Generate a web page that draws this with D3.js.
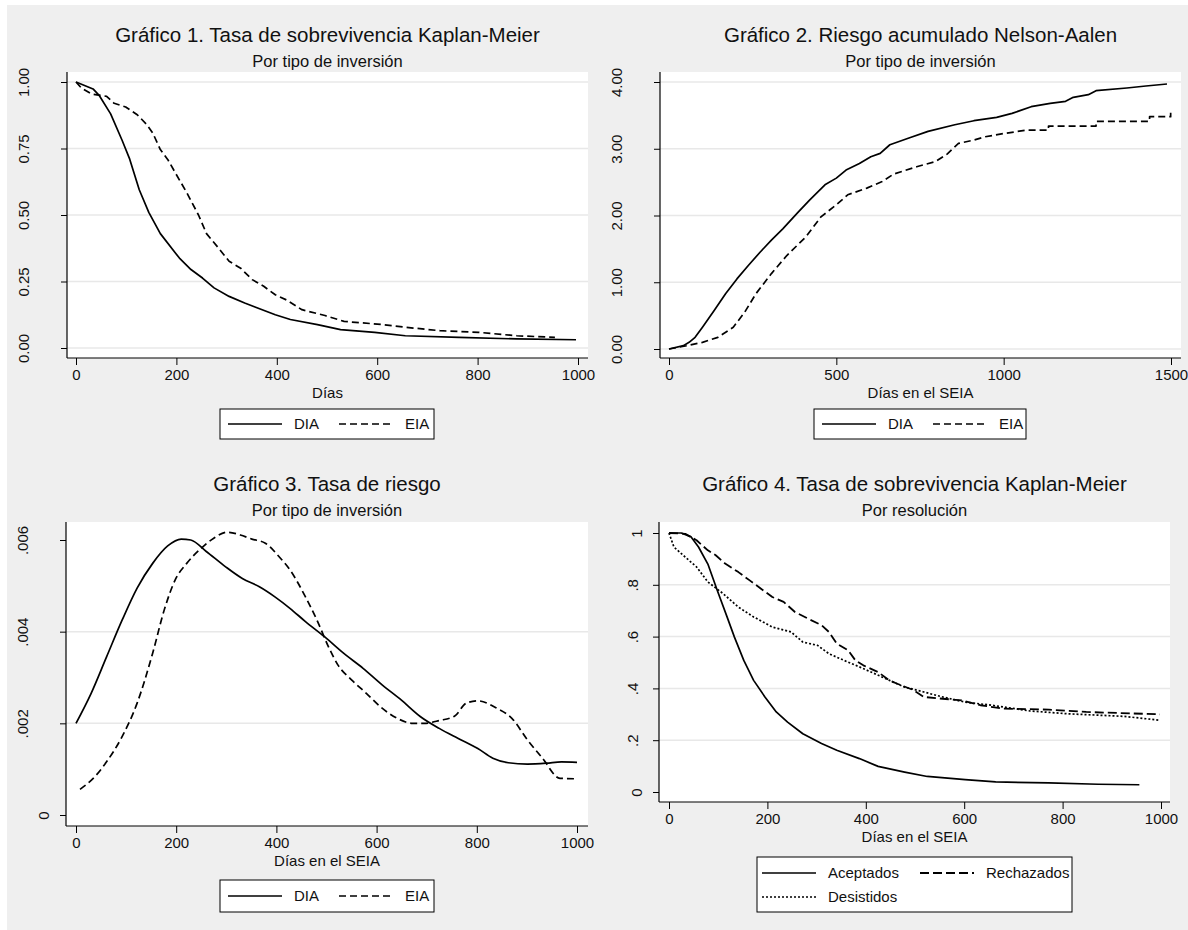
<!DOCTYPE html>
<html>
<head>
<meta charset="utf-8">
<script src="https://cdn.jsdelivr.net/npm/d3@7"></script>
<style>
  body { margin: 0; background: #fff; }
  svg text { font-family: "Liberation Sans", Arial, sans-serif; fill: #111; }
</style>
</head>
<body>
<div id="container"></div>
<script>
//Gráfico 1: Kaplan-Meier por tipo de inversión
var km1DiaDays = [0, 34, 46, 69, 92, 107, 126, 145, 168, 198, 206, 229, 252, 275, 305, 336, 397, 427, 481, 527, 595, 656, 763, 878, 996];
var km1DiaSurv = [1, 0.974, 0.95, 0.88, 0.78, 0.71, 0.595, 0.51, 0.43, 0.357, 0.338, 0.295, 0.263, 0.226, 0.194, 0.169, 0.125, 0.107, 0.088, 0.069, 0.059, 0.046, 0.04, 0.034, 0.031];
var km1EiaDays = [0, 11, 31, 61, 76, 99, 122, 141, 153, 168, 183, 198, 221, 244, 260, 282, 305, 328, 351, 374, 397, 420, 450, 496, 534, 611, 672, 725, 802, 878, 954];
var km1EiaSurv = [1, 0.977, 0.955, 0.946, 0.92, 0.906, 0.877, 0.84, 0.808, 0.746, 0.708, 0.658, 0.583, 0.5, 0.43, 0.38, 0.326, 0.3, 0.257, 0.232, 0.2, 0.18, 0.144, 0.122, 0.1, 0.088, 0.075, 0.065, 0.059, 0.046, 0.04];

//Gráfico 2: Nelson-Aalen
var naDiaDays = [0, 43, 60, 78, 100, 135, 169, 203, 237, 272, 306, 340, 386, 420, 466, 500, 529, 569, 603, 631, 660, 717, 774, 854, 911, 979, 1025, 1082, 1139, 1185, 1208, 1253, 1276, 1368, 1425, 1488];
var naDiaHaz = [0, 0.05, 0.1, 0.175, 0.326, 0.576, 0.827, 1.05, 1.25, 1.45, 1.63, 1.8, 2.05, 2.23, 2.46, 2.56, 2.68, 2.78, 2.88, 2.93, 3.06, 3.16, 3.26, 3.36, 3.42, 3.47, 3.53, 3.63, 3.68, 3.71, 3.77, 3.81, 3.87, 3.91, 3.94, 3.97];
var naEiaDays = [0, 55, 100, 146, 192, 226, 260, 306, 352, 409, 454, 500, 534, 591, 637, 671, 740, 797, 831, 865, 911, 945, 1002, 1071, 1134, 1134, 1276, 1276, 1436, 1436, 1499, 1499];
var naEiaHaz = [0, 0.05, 0.1, 0.175, 0.326, 0.55, 0.83, 1.13, 1.4, 1.68, 1.98, 2.16, 2.31, 2.41, 2.51, 2.62, 2.73, 2.81, 2.92, 3.08, 3.13, 3.18, 3.23, 3.28, 3.28, 3.34, 3.34, 3.41, 3.41, 3.48, 3.48, 3.54];

//Gráfico 3: tasa de riesgo suavizada
var hzDiaDays = [0, 30, 61, 92, 122, 153, 183, 210, 229, 260, 298, 332, 366, 397, 427, 458, 496, 534, 573, 611, 649, 687, 725, 763, 802, 832, 863, 901, 939, 969, 1000];
var hzDiaRate = [0.002, 0.00265, 0.00345, 0.00425, 0.00495, 0.00549, 0.00587, 0.00602, 0.006, 0.00575, 0.00542, 0.00516, 0.00498, 0.00476, 0.00451, 0.00422, 0.00389, 0.00353, 0.0032, 0.00284, 0.00251, 0.00215, 0.00189, 0.00167, 0.00145, 0.00124, 0.00114, 0.00111, 0.00113, 0.00116, 0.00115];
var hzEiaDays = [8, 38, 61, 92, 122, 153, 176, 198, 221, 252, 275, 302, 328, 351, 378, 405, 427, 458, 481, 504, 523, 550, 580, 611, 641, 672, 695, 725, 756, 779, 802, 840, 870, 901, 931, 966, 1000];
var hzEiaRate = [0.00056, 0.00084, 0.00116, 0.00171, 0.00244, 0.00353, 0.00447, 0.00513, 0.00549, 0.00584, 0.00604, 0.00617, 0.00611, 0.00602, 0.00593, 0.00564, 0.00535, 0.00476, 0.00425, 0.00367, 0.00327, 0.00295, 0.00265, 0.00233, 0.00211, 0.002, 0.002, 0.00206, 0.00216, 0.00244, 0.00249, 0.00233, 0.00211, 0.00164, 0.00124, 0.0008, 0.00079];

//Gráfico 4: Kaplan-Meier por resolución
var acepDays = [0, 25, 45, 60, 79, 98, 118, 133, 152, 172, 195, 218, 241, 272, 310, 341, 387, 425, 479, 525, 602, 664, 772, 872, 956];
var acepSurv = [1, 1, 0.985, 0.946, 0.88, 0.779, 0.676, 0.598, 0.508, 0.431, 0.367, 0.309, 0.27, 0.225, 0.187, 0.161, 0.129, 0.099, 0.077, 0.06, 0.048, 0.039, 0.035, 0.03, 0.028];
var rechDays = [0, 33, 56, 79, 95, 114, 141, 164, 187, 210, 233, 256, 283, 310, 325, 341, 364, 379, 395, 425, 448, 464, 495, 518, 556, 595, 633, 679, 772, 848, 964, 998];
var rechSurv = [1, 0.997, 0.972, 0.933, 0.914, 0.882, 0.849, 0.817, 0.785, 0.753, 0.734, 0.695, 0.669, 0.644, 0.618, 0.573, 0.547, 0.508, 0.489, 0.463, 0.431, 0.418, 0.395, 0.367, 0.36, 0.354, 0.335, 0.322, 0.318, 0.309, 0.302, 0.3];
var desiDays = [0, 10, 33, 56, 79, 110, 141, 172, 210, 248, 272, 302, 325, 356, 387, 418, 448, 479, 518, 556, 602, 656, 733, 810, 925, 998];
var desiSurv = [1, 0.946, 0.907, 0.869, 0.811, 0.766, 0.714, 0.676, 0.637, 0.618, 0.579, 0.566, 0.534, 0.508, 0.483, 0.457, 0.431, 0.405, 0.386, 0.367, 0.347, 0.335, 0.313, 0.302, 0.292, 0.277];

//Tick labels
var ticksKm = [0, 0.25, 0.5, 0.75, 1];
var ticksNa = [0, 1, 2, 3, 4];
var ticksHz = [0, 0.002, 0.004, 0.006];
var ticksKm4 = [0, 0.2, 0.4, 0.6, 0.8, 1];
var ticksDays1000 = [0, 200, 400, 600, 800, 1000];
var ticksDays1500 = [0, 500, 1000, 1500];

function zip(xs, ys) {
    return xs.map(function (d, i) { return [d, ys[i]]; });
}

var width = 1188, height = 930;
var svg = d3.select("#container").append("svg")
    .attr("width", width)
    .attr("height", height);

//Gray background with a thin white frame on the top and left
svg.append("rect").attr("x", 7).attr("y", 5).attr("width", width - 7).attr("height", height - 5)
    .attr("fill", "#efefef");

var panels = [
    {
        ox: 0, oy: 0, left: 67, right: 588, top: 72, bottom: 358,
        xr: [76, 578], yr: [348, 82], xmax: 1000,
        xticks: ticksDays1000, yticks: ticksKm, ygrid: ticksKm, ymax: 1, yfmt: d3.format(".2f"),
        title: "Gráfico 1. Tasa de sobrevivencia Kaplan-Meier", subtitle: "Por tipo de inversión",
        xlabel: "Días",
        series: [
            { data: zip(km1DiaDays, km1DiaSurv), dash: null, name: "DIA" },
            { data: zip(km1EiaDays, km1EiaSurv), dash: "7,4", name: "EIA" }
        ],
        legend: { x: 220, y: 409, w: 214, h: 30, cols: 2 }
    },
    {
        ox: 593, oy: 0, left: 67, right: 588, top: 72, bottom: 358,
        xr: [76, 578], yr: [349, 82], xmax: 1500,
        xticks: ticksDays1500, yticks: ticksNa, ygrid: ticksNa, ymax: 4, yfmt: d3.format(".2f"),
        title: "Gráfico 2. Riesgo acumulado Nelson-Aalen", subtitle: "Por tipo de inversión",
        xlabel: "Días en el SEIA",
        series: [
            { data: zip(naDiaDays, naDiaHaz), dash: null, name: "DIA" },
            { data: zip(naEiaDays, naEiaHaz), dash: "7,4", name: "EIA" }
        ],
        legend: { x: 221, y: 409, w: 212, h: 30, cols: 2 }
    },
    {
        ox: 0, oy: 449, left: 66, right: 588, top: 73, bottom: 377,
        xr: [76, 577], yr: [366, 91], xmax: 1000,
        xticks: ticksDays1000, yticks: ticksHz, ygrid: [0.002, 0.004], ymax: 0.006,
        yfmt: function (d) { return d === 0 ? "0" : d3.format(".3f")(d).replace(/^0/, ""); },
        title: "Gráfico 3. Tasa de riesgo", subtitle: "Por tipo de inversión",
        xlabel: "Días en el SEIA",
        series: [
            { data: zip(hzDiaDays, hzDiaRate), dash: null, name: "DIA", curve: d3.curveMonotoneX },
            { data: zip(hzEiaDays, hzEiaRate), dash: "7,4", name: "EIA", curve: d3.curveMonotoneX }
        ],
        legend: { x: 220, y: 431, w: 214, h: 32, cols: 2 }
    },
    {
        ox: 593, oy: 449, left: 66, right: 577, top: 73, bottom: 353,
        xr: [76, 568], yr: [343, 84], xmax: 1000,
        xticks: ticksDays1000, yticks: ticksKm4, ygrid: [0.2, 0.4, 0.6, 0.8], ymax: 1,
        yfmt: function (d) { return d === 0 || d === 1 ? String(d) : String(d).replace(/^0/, ""); },
        title: "Gráfico 4. Tasa de sobrevivencia Kaplan-Meier", subtitle: "Por resolución",
        xlabel: "Días en el SEIA",
        series: [
            { data: zip(acepDays, acepSurv), dash: null, name: "Aceptados" },
            { data: zip(rechDays, rechSurv), dash: "9,4", name: "Rechazados", width: 1.8 },
            { data: zip(desiDays, desiSurv), dash: "2,2", name: "Desistidos" }
        ],
        legend: { x: 164, y: 408, w: 315, h: 55, cols: 2, colW: 158, rowH: 24 }
    }
];

panels.forEach(function (p) {
    var g = svg.append("g").attr("transform", "translate(" + p.ox + "," + p.oy + ")");
    var x = d3.scaleLinear().domain([0, p.xmax]).range(p.xr);
    var y = d3.scaleLinear().domain([0, p.ymax]).range(p.yr);
    var cx = (p.left + p.right) / 2;

    //Titles
    g.append("text").attr("x", cx).attr("y", 42).attr("text-anchor", "middle")
        .style("font-size", "20.5px").text(p.title);
    g.append("text").attr("x", cx).attr("y", 67).attr("text-anchor", "middle")
        .style("font-size", "16.5px").text(p.subtitle);

    //Plot region
    g.append("rect").attr("x", p.left).attr("y", p.top)
        .attr("width", p.right - p.left).attr("height", p.bottom - p.top)
        .attr("fill", "#fff");

    //Gridlines
    g.append("g").selectAll("line").data(p.ygrid).enter().append("line")
        .attr("x1", p.left).attr("x2", p.right)
        .attr("y1", function (d) { return y(d); }).attr("y2", function (d) { return y(d); })
        .attr("stroke", "#e8e8e8").attr("stroke-width", 1.5);

    //Curves
    p.series.forEach(function (s) {
        var line = d3.line()
            .x(function (d) { return x(d[0]); })
            .y(function (d) { return y(d[1]); })
            .curve(s.curve || d3.curveLinear);
        g.append("path").datum(s.data)
            .attr("d", line)
            .attr("fill", "none")
            .attr("stroke", "#000")
            .attr("stroke-width", s.width || 1.7)
            .attr("stroke-dasharray", s.dash)
            .attr("stroke-linejoin", "round");
    });

    //Axes lines
    g.append("line").attr("x1", p.left).attr("x2", p.left).attr("y1", p.top).attr("y2", p.bottom)
        .attr("stroke", "#000").attr("stroke-width", 1.2);
    g.append("line").attr("x1", p.left).attr("x2", p.right).attr("y1", p.bottom).attr("y2", p.bottom)
        .attr("stroke", "#000").attr("stroke-width", 1.2);

    //X axis ticks and labels
    var xa = d3.axisBottom(x).tickValues(p.xticks).tickFormat(d3.format("d"))
        .tickSize(7).tickPadding(4).tickSizeOuter(0);
    var gx = g.append("g").attr("transform", "translate(0," + p.bottom + ")").call(xa);
    gx.select(".domain").remove();
    gx.selectAll("text").style("font-size", "15px").attr("fill", "#111");
    gx.selectAll("line").attr("stroke", "#000");

    g.append("text").attr("x", cx).attr("y", p.bottom + 40).attr("text-anchor", "middle")
        .style("font-size", "15px").text(p.xlabel);

    //Y axis ticks and rotated labels
    var ya = d3.axisLeft(y).tickValues(p.yticks).tickSize(6).tickFormat(p.yfmt);
    var gy = g.append("g").attr("transform", "translate(" + p.left + ",0)").call(ya);
    gy.select(".domain").remove();
    gy.selectAll("line").attr("stroke", "#000");
    gy.selectAll("text")
        .style("font-size", "15px")
        .attr("fill", "#111")
        .attr("text-anchor", "middle")
        .attr("dy", "0.35em")
        .each(function () {
            var t = d3.select(this);
            var len = this.getComputedTextLength();
            t.attr("x", null)
                .attr("transform", "translate(" + (-14 - len) + ",0) rotate(-90)");
        });

    //Legend
    var L = p.legend;
    var lg = g.append("g").attr("transform", "translate(" + L.x + "," + L.y + ")");
    lg.append("rect").attr("width", L.w).attr("height", L.h)
        .attr("fill", "#fff").attr("stroke", "#000").attr("stroke-width", 1);
    p.series.forEach(function (s, i) {
        var col = i % L.cols, row = Math.floor(i / L.cols);
        var ix, iy;
        if (p.series.length === 2) {
            ix = 8 + col * 111;
            iy = L.h / 2;
        } else {
            ix = 5 + col * L.colW;
            iy = 16 + row * L.rowH;
        }
        lg.append("line").attr("x1", ix).attr("x2", ix + 54).attr("y1", iy).attr("y2", iy)
            .attr("stroke", "#000").attr("stroke-width", s.width || 1.6)
            .attr("stroke-dasharray", s.dash);
        lg.append("text").attr("x", ix + 66).attr("y", iy).attr("dy", "0.35em")
            .style("font-size", "15px").text(s.name);
    });
});
</script>
</body>
</html>
